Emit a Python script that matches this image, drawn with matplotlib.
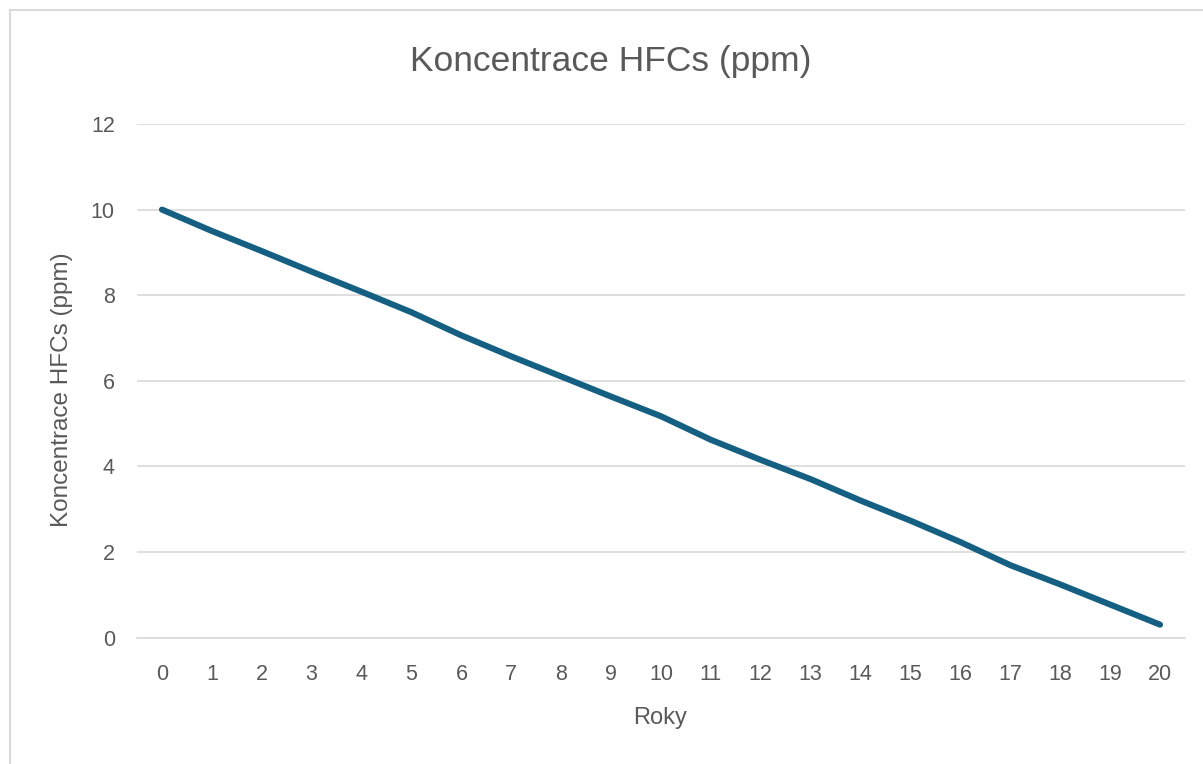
import matplotlib
matplotlib.use("Agg")
import matplotlib.pyplot as plt
from matplotlib.lines import Line2D
from matplotlib import font_manager

years = list(range(0, 21))
hfc_ppm = [10.0, 9.5, 9.03, 8.55, 8.08, 7.6, 7.06, 6.57, 6.1, 5.63, 5.17,
           4.62, 4.15, 3.7, 3.2, 2.73, 2.23, 1.69, 1.24, 0.77, 0.3]
y_ticks = [0, 2, 4, 6, 8, 10, 12]

title_text = "Koncentrace HFCs (ppm)"
x_label = "Roky"
y_label = "Koncentrace HFCs (ppm)"

names = {f.name for f in font_manager.fontManager.ttflist}
fam = ["Liberation Sans Narrow", "DejaVu Sans"] if "Liberation Sans Narrow" in names else ["Liberation Sans", "DejaVu Sans"]
plt.rcParams["font.family"] = fam

W, H = 1203, 764
fig = plt.figure(figsize=(W / 100, H / 100), dpi=100)
fig.patch.set_facecolor("white")

left, right, top, bottom = 137, 1185, 124, 637.5
ax = fig.add_axes([left / W, (H - bottom) / H, (right - left) / W, (bottom - top) / H])

ax.plot(years, hfc_ppm, color="#156082", linewidth=4.4, solid_capstyle="round",
        solid_joinstyle="round", zorder=3)

ax.set_xlim(-0.5, 20.5)
ax.set_ylim(0, 12)
ax.set_xticks(years)
ax.set_yticks(y_ticks)
ax.grid(axis="y", color="#d9d9d9", linewidth=1.2)
ax.set_axisbelow(True)
for s in ["top", "right", "left"]:
    ax.spines[s].set_visible(False)
ax.spines["bottom"].set_color("#d9d9d9")
ax.spines["bottom"].set_linewidth(1.2)
ax.tick_params(axis="both", length=0, labelsize=15.5, labelcolor="#595959")
ax.tick_params(axis="y", pad=16)
ax.tick_params(axis="x", pad=19)

fig.text(611 / W, 1 - 61 / H, title_text, ha="center", va="center",
         fontsize=25.5, color="#595959")
fig.text(660 / W, 1 - 718 / H, x_label, ha="center", va="center",
         fontsize=17, color="#595959")
fig.text(62 / W, 1 - 390 / H, y_label, ha="center", va="center", rotation=90,
         fontsize=17.5, color="#595959")

# chart area border (top & left visible)
fig.add_artist(Line2D([10 / W, 1.0], [1 - 10 / H, 1 - 10 / H], color="#d9d9d9", linewidth=1.5))
fig.add_artist(Line2D([10 / W, 10 / W], [1 - 10 / H, 0.0], color="#d9d9d9", linewidth=1.5))

fig.savefig("out.png", dpi=100)
